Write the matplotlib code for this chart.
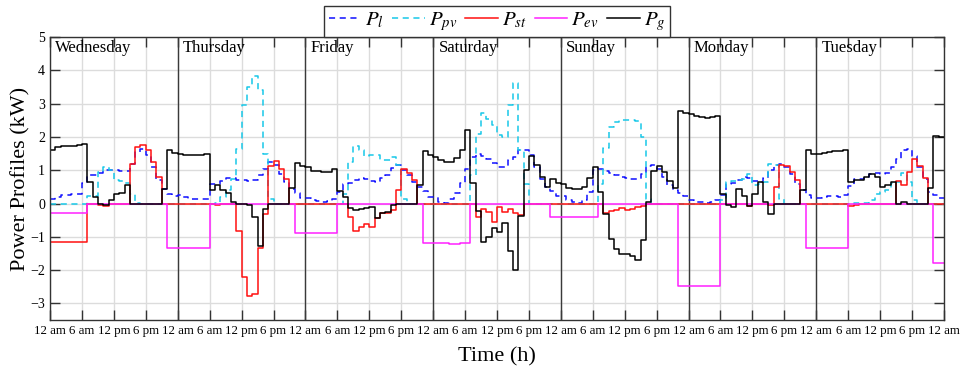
import numpy as np
import matplotlib
matplotlib.use("Agg")
import matplotlib.pyplot as plt

plt.rcParams['font.family'] = ['Liberation Serif', 'DejaVu Serif']
plt.rcParams['mathtext.fontset'] = 'stix'

# hourly values, one row per day (Wednesday .. Tuesday), kW
days = ["Wednesday", "Thursday", "Friday", "Saturday", "Sunday", "Monday", "Tuesday"]
tick_names = ["12 am", "6 am", "12 pm", "6 pm"]

p_load = [
    [0.15, 0.20, 0.25, 0.27, 0.28, 0.30, 0.63, 0.85, 0.85, 0.91, 1.00, 1.00, 1.02, 0.98, 0.97, 1.20, 1.55, 1.65, 1.45, 1.10, 0.70, 0.45, 0.28, 0.22],
    [0.25, 0.20, 0.15, 0.13, 0.13, 0.15, 0.60, 0.60, 0.68, 0.77, 0.77, 0.72, 0.72, 0.68, 0.72, 0.85, 1.05, 1.25, 1.15, 0.90, 0.65, 0.45, 0.32, 0.18],
    [0.17, 0.12, 0.07, 0.05, 0.07, 0.13, 0.35, 0.58, 0.62, 0.70, 0.76, 0.73, 0.69, 0.65, 0.76, 0.86, 1.06, 1.15, 1.00, 0.85, 0.65, 0.50, 0.39, 0.19],
    [0.21, 0.06, 0.03, 0.13, 0.31, 0.61, 1.05, 1.40, 1.48, 1.44, 1.33, 1.22, 1.10, 1.10, 1.30, 1.41, 1.61, 1.60, 1.45, 1.10, 0.75, 0.50, 0.39, 0.23],
    [0.22, 0.12, 0.04, 0.03, 0.10, 0.35, 1.00, 1.03, 0.98, 0.92, 0.86, 0.81, 0.76, 0.73, 0.75, 0.89, 1.13, 1.15, 1.05, 0.80, 0.55, 0.40, 0.32, 0.22],
    [0.12, 0.06, 0.04, 0.03, 0.04, 0.10, 0.25, 0.60, 0.63, 0.71, 0.80, 0.76, 0.68, 0.65, 0.76, 1.00, 1.16, 1.18, 1.10, 0.90, 0.60, 0.40, 0.27, 0.17],
    [0.16, 0.19, 0.23, 0.23, 0.21, 0.26, 0.53, 0.73, 0.75, 0.79, 0.89, 0.91, 0.89, 0.91, 1.09, 1.35, 1.61, 1.63, 1.44, 1.10, 0.75, 0.35, 0.25, 0.16],
]

p_pv = [
    [0, 0, 0, 0, 0, 0, 0, 0.22, 0.22, 0.95, 1.09, 1.02, 0.71, 0.67, 0.62, 0.30, 0.03, 0, 0, 0, 0, 0, 0, 0],
    [0, 0, 0, 0, 0, 0, 0, 0.03, 0.20, 0.40, 0.75, 1.63, 2.95, 3.50, 3.83, 3.40, 1.50, 0.15, 0, 0, 0, 0, 0, 0],
    [0, 0, 0, 0, 0, 0, 0, 0.30, 1.25, 1.72, 1.62, 1.42, 1.45, 1.47, 1.30, 1.30, 1.40, 1.15, 0.15, 0, 0, 0, 0, 0],
    [0, 0, 0, 0, 0, 0, 0, 0.85, 2.10, 2.71, 2.55, 2.36, 2.06, 1.99, 2.96, 3.61, 1.60, 0.60, 0, 0, 0, 0, 0, 0],
    [0, 0, 0, 0, 0, 0, 0, 0.60, 1.68, 2.30, 2.46, 2.50, 2.51, 2.50, 2.48, 1.99, 0.15, 0, 0, 0, 0, 0, 0, 0],
    [0, 0, 0, 0, 0, 0, 0.10, 0.65, 0.68, 0.72, 0.75, 0.88, 0.55, 0.60, 0.65, 1.18, 1.15, 0.15, 0, 0, 0, 0, 0, 0],
    [0, 0, 0, 0, 0, 0, 0, 0.02, 0.03, 0.03, 0.10, 0.30, 0.35, 0.40, 0.62, 0.65, 0.92, 0.65, 0.10, 0, 0, 0, 0, 0],
]

p_st = [
    [-1.15, -1.17, -1.15, -1.15, -1.15, -1.15, -1.15, 0, 0, -0.05, -0.07, 0, 0, 0, 0, 1.19, 1.71, 1.77, 1.61, 1.24, 0.81, 0, 0, 0],
    [0, 0, 0, 0, 0, 0, 0, -0.05, 0, 0, 0, -0.82, -2.20, -2.77, -2.73, -1.33, -0.32, 1.13, 1.28, 1.05, 0.75, 0, 0, 0],
    [0, 0, 0, 0, 0, 0, 0, 0, -0.40, -0.82, -0.70, -0.62, -0.70, -0.45, -0.30, -0.28, -0.20, 0.40, 1.05, 0.93, 0.70, 0, 0, 0],
    [0, 0, 0, 0, 0, 0, 0, 0, -0.40, -0.15, -0.25, -0.55, -0.10, -0.25, -0.15, -0.30, -0.35, 0, 0, 0, 0, 0, 0, 0],
    [0, 0, 0, 0, 0, 0, 0, 0, -0.30, -0.22, -0.20, -0.12, -0.18, -0.15, -0.10, -0.07, 0, 0, 0, 0, 0, 0, 0, 0],
    [0, 0, 0, 0, 0, 0, 0, 0, 0, 0, 0, -0.07, -0.02, 0, 0, -0.05, 0.50, 1.17, 1.12, 0.95, 0.70, 0, 0, 0],
    [0, 0, 0, 0, 0, 0, -0.08, -0.03, -0.02, 0, 0, 0, 0, 0, 0, 0.68, 0.56, 0.95, 1.35, 1.13, 0.77, 0, 0, 0],
]

p_ev = [
    [-0.30, -0.30, -0.30, -0.30, -0.30, -0.30, -0.30, 0, 0, 0, 0, 0, 0, 0, 0, 0, 0, 0, 0, 0, 0, 0, -1.35, -1.35],
    [-1.35, -1.35, -1.35, -1.35, -1.35, -1.35, 0, 0, 0, 0, 0, 0, 0, 0, 0, 0, 0, 0, 0, 0, 0, 0, -0.90, -0.90],
    [-0.90, -0.90, -0.90, -0.90, -0.90, -0.90, 0, 0, 0, 0, 0, 0, 0, 0, 0, 0, 0, 0, 0, 0, 0, 0, -1.20, -1.20],
    [-1.20, -1.20, -1.20, -1.21, -1.21, -1.20, -1.20, 0, 0, 0, 0, 0, 0, 0, 0, 0, 0, 0, 0, 0, 0, 0, -0.40, -0.40],
    [-0.40, -0.40, -0.40, -0.40, -0.40, -0.40, -0.40, 0, 0, 0, 0, 0, 0, 0, 0, 0, 0, 0, 0, 0, 0, 0, -2.48, -2.48],
    [-2.48, -2.48, -2.49, -2.48, -2.48, -2.48, 0, 0, 0, 0, 0, 0, 0, 0, 0, 0, 0, 0, 0, 0, 0, 0, -1.35, -1.35],
    [-1.35, -1.35, -1.35, -1.35, -1.35, -1.35, 0, 0, 0, 0, 0, 0, 0, 0, 0, 0, 0, 0, 0, 0, 0, 0, -1.80, -1.80],
]

p_grid = [
    [1.62, 1.70, 1.72, 1.73, 1.74, 1.76, 1.79, 0.64, 0.21, -0.02, -0.03, 0.10, 0.28, 0.31, 0.55, 0, 0, 0, 0, 0, 0, 0.45, 1.62, 1.52],
    [1.50, 1.47, 1.46, 1.46, 1.47, 1.48, 0.41, 0.55, 0.40, 0.33, 0.05, -0.02, -0.02, -0.04, -0.40, -1.27, -0.15, 0, 0, 0, 0, 0.48, 1.21, 1.12],
    [1.10, 0.99, 0.97, 0.95, 0.96, 1.04, 0.39, 0.20, -0.12, -0.20, -0.17, -0.12, -0.10, -0.44, -0.30, -0.25, -0.05, 0, 0, 0, 0, 0.55, 1.57, 1.46],
    [1.40, 1.32, 1.26, 1.26, 1.36, 1.60, 2.22, 0.61, -0.21, -1.17, -1.02, -0.74, -0.87, -0.59, -1.44, -2.01, -0.38, 1.00, 1.43, 1.15, 0.79, 0.49, 0.73, 0.63],
    [0.58, 0.47, 0.43, 0.43, 0.51, 0.77, 1.11, 0.36, -0.31, -1.06, -1.37, -1.52, -1.53, -1.59, -1.69, -1.11, 0.06, 0.98, 1.13, 0.96, 0.68, 0.48, 2.78, 2.71],
    [2.68, 2.63, 2.60, 2.58, 2.60, 2.62, 0.30, -0.05, -0.09, 0.43, 0.23, -0.07, 0.29, 0.64, 0.06, -0.32, 0, 0, 0, 0, 0, 0.41, 1.60, 1.49],
    [1.50, 1.52, 1.55, 1.57, 1.59, 1.62, 0.65, 0.71, 0.72, 0.81, 0.89, 0.79, 0.51, 0.56, 0.65, 0.00, 0.06, 0, 0, 0, 0, 0.46, 2.04, 1.99],
]

series = [
    (p_load, r"$P_l$", "#1010ff", (0, (4, 3))),
    (p_pv, r"$P_{pv}$", "#18c8e8", (0, (4, 3))),
    (p_st, r"$P_{st}$", "#ff1010", "-"),
    (p_ev, r"$P_{ev}$", "#ff20ff", "-"),
    (p_grid, r"$P_g$", "black", "-"),
]

n_hours = 24 * len(days)
hours = np.arange(n_hours + 1)

fig = plt.figure(figsize=(9.69, 3.67), dpi=100)
ax = fig.add_axes([0.0516, 0.128, 0.9226, 0.771])

for data, label, color, ls in series:
    vals = np.concatenate(data)
    vals = np.append(vals, vals[-1])
    ax.plot(hours, vals, drawstyle="steps-post", color=color, ls=ls, lw=1.1, label=label)

# day separators and names
for i, name in enumerate(days):
    if i > 0:
        ax.axvline(24 * i, color="#3a3a3a", lw=1.0, zorder=1)
    ax.text(24 * i + 1.0, 4.66, name, fontsize=12, va="center", ha="left")

ax.set_xlim(0, n_hours)
ax.set_ylim(-3.5, 5)
ax.set_xticks(np.arange(0, n_hours + 1, 6))
ax.set_xticklabels([tick_names[k % 4] for k in range(len(days) * 4 + 1)], fontsize=9.3)
ax.set_yticks(np.arange(-3, 6, 1))
ax.tick_params(axis="y", labelsize=10)
ax.tick_params(direction="in", length=7, width=1, top=True, right=True, color="#333333")
ax.grid(True, color="#dcdcdc", lw=1.0)
ax.set_axisbelow(True)
for sp in ax.spines.values():
    sp.set_color("#333333")
    sp.set_linewidth(1.0)

ax.set_xlabel("Time (h)", fontsize=16)
ax.set_ylabel("Power Profiles (kW)", fontsize=16)
ax.xaxis.set_label_coords(0.5, -0.095)
ax.yaxis.set_label_coords(-0.022, 0.5)

leg = ax.legend(loc="lower center", bbox_to_anchor=(0.5, 1.0), ncol=5, fontsize=15,
                frameon=True, fancybox=False, edgecolor="#333333", framealpha=1,
                borderaxespad=0, borderpad=0.2, handlelength=1.55, handletextpad=0.2,
                columnspacing=0.4)
leg.get_frame().set_linewidth(1.0)

fig.savefig("out.png", dpi=100)
